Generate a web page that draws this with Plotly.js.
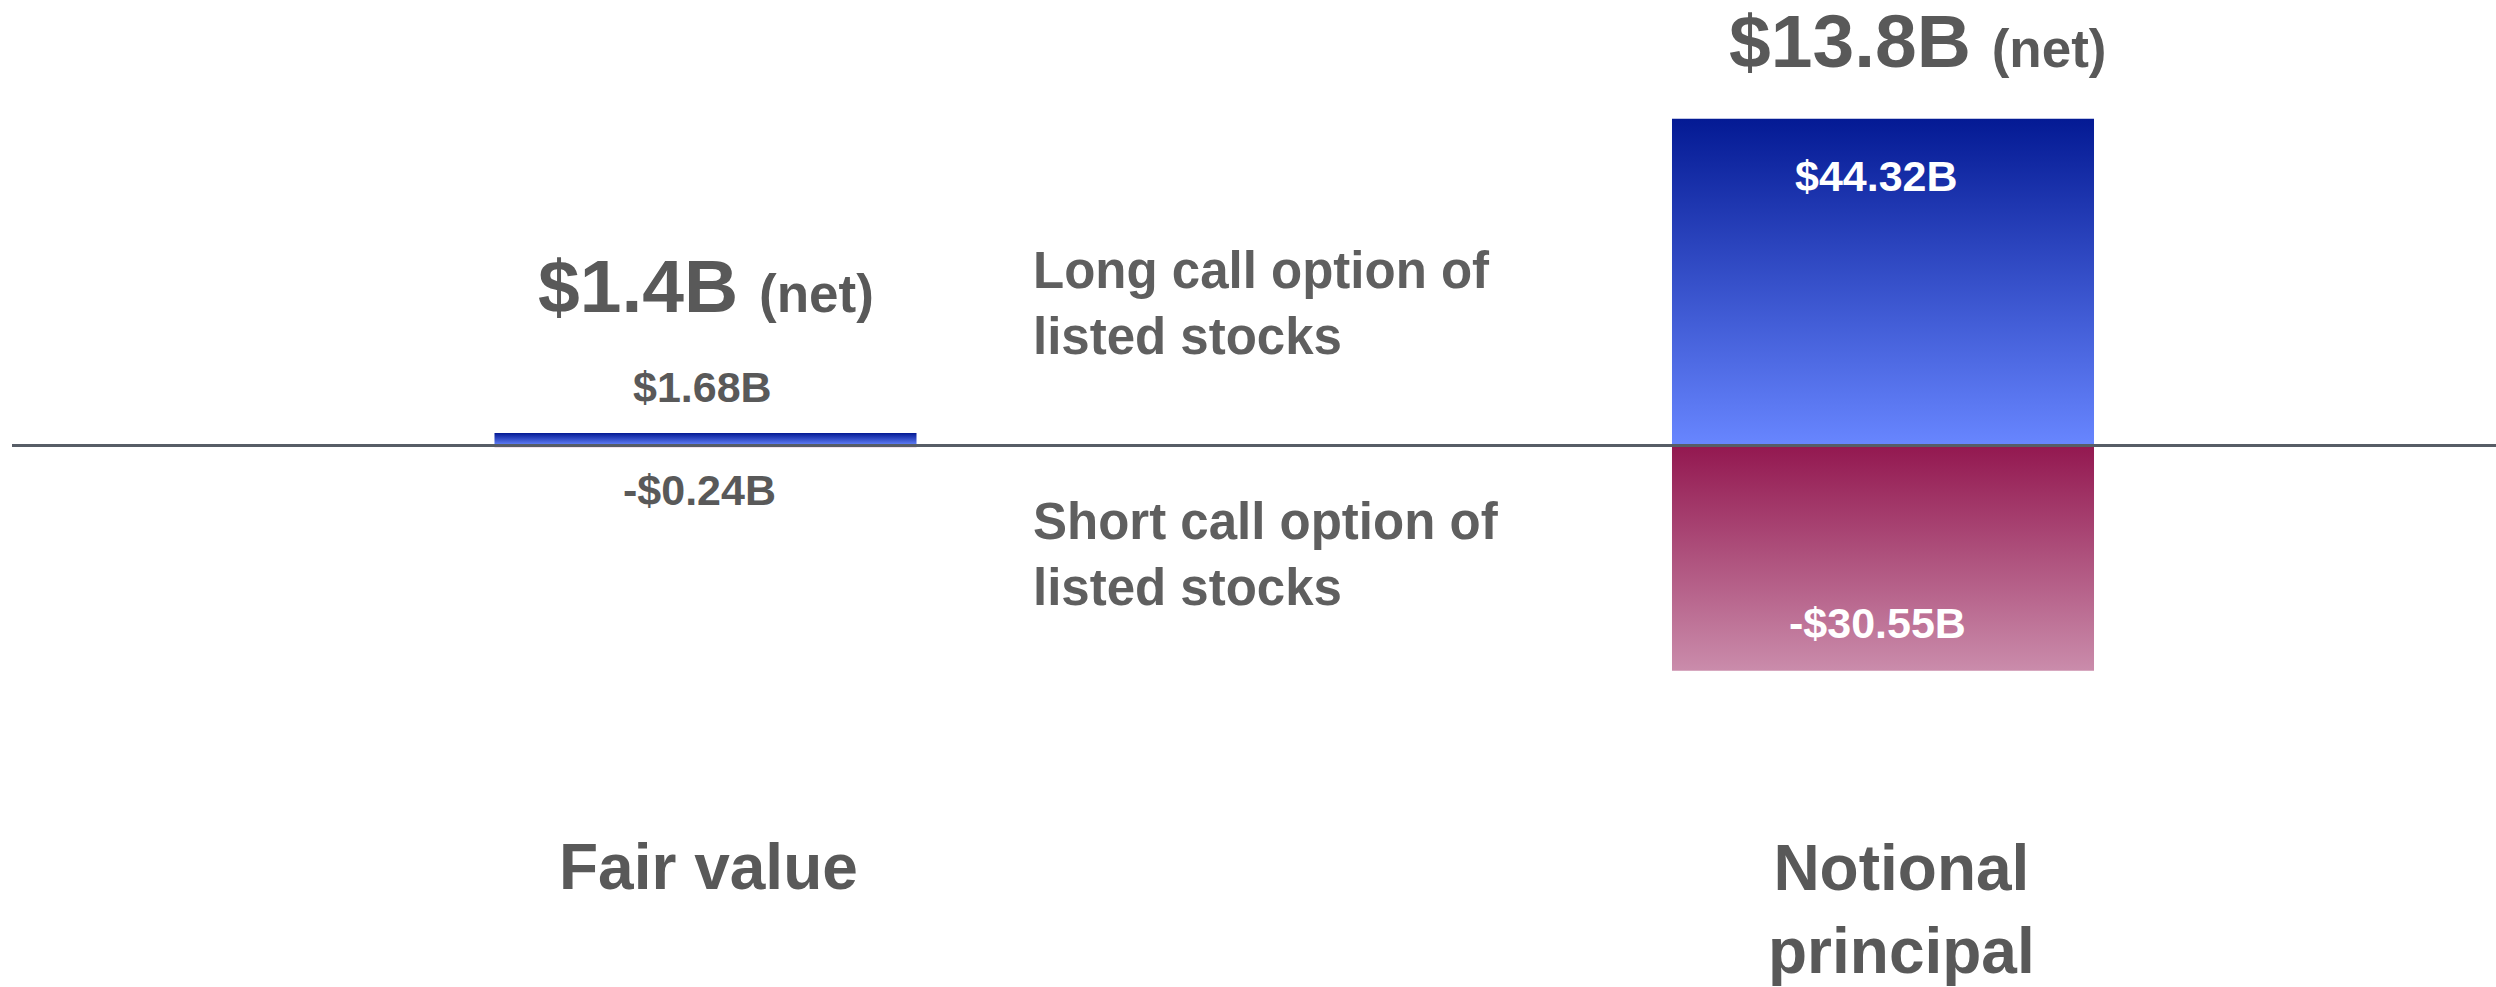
<!DOCTYPE html>
<html>
<head>
<meta charset="utf-8">
<script src="https://cdn.plot.ly/plotly-3.0.1.min.js"></script>
<style>
  html, body { margin: 0; padding: 0; background: #ffffff; }
  #chart { width: 2496px; height: 987px; }
</style>
</head>
<body>
<div id="chart"></div>
<script>
// ---- data ----
const categories = ['Fair value', 'Notional principal'];
const categoryLabels = ['Fair value', 'Notional<br>principal'];
const longCall = [1.68, 44.32];
const shortCall = [-0.24, -30.55];
const seriesNames = ['Long call option of<br>listed stocks', 'Short call option of<br>listed stocks'];

// ---- layout geometry ----
const W = 2496, H = 987;
const ML = 12;                       // plot area left
const PW = W - ML;                   // plot area width
const CAT0_PX = 705.5, CAT_STEP_PX = 1177.5;
const ZERO_PX = 445.5, PX_PER_B = 7.37;
const BAR_HALF = 0.1792;             // half bar width in category units

const xRange = [(ML - CAT0_PX) / CAT_STEP_PX, (W - CAT0_PX) / CAT_STEP_PX];
const yRange = [-(H - ZERO_PX) / PX_PER_B, ZERO_PX / PX_PER_B];

const FONT = 'Liberation Sans, Arial, Helvetica, sans-serif';
const GREY = '#595959';

const blueScale = [[0, '#6886ff'], [1, '#041a94']];
const redScale  = [[0, '#ca8cab'], [1, '#931850']];

function barTrace(i, v, scale, name) {
  return {
    type: 'scatter',
    mode: 'lines',
    name: name,
    x: [i - BAR_HALF, i + BAR_HALF, i + BAR_HALF, i - BAR_HALF, i - BAR_HALF],
    y: [0, 0, v, v, 0],
    fill: 'toself',
    fillgradient: { type: 'vertical', colorscale: scale },
    line: { width: 0, color: 'rgba(0,0,0,0)' },
    hoverinfo: 'skip',
    showlegend: false
  };
}

const traces = [];
categories.forEach((c, i) => {
  traces.push(barTrace(i, longCall[i], blueScale, 'Long call option of listed stocks'));
  traces.push(barTrace(i, shortCall[i], redScale, 'Short call option of listed stocks'));
});

function fmt(v, d) {
  return (v < 0 ? '-$' : '$') + Math.abs(v).toFixed(d) + 'B';
}
const px2fx = px => (px - ML) / PW;
const px2fy = py => 1 - py / H;
const yPx = v => ZERO_PX - v * PX_PER_B;

const annotations = [];
// value labels
const valueLabelStyle = [
  { i: 0, long: true,  color: GREY,      xs: -3.5, capCenter: 387 },
  { i: 0, long: false, color: GREY,      xs: -6.5, capCenter: 490 },
  { i: 1, long: true,  color: '#ffffff', xs: -7,   capCenter: 176.5 },
  { i: 1, long: false, color: '#ffffff', xs: -6,   capCenter: 623.5 }
];
valueLabelStyle.forEach(s => {
  const v = s.long ? longCall[s.i] : shortCall[s.i];
  annotations.push({
    xref: 'x', yref: 'y', x: s.i, y: v,
    xshift: s.xs, yshift: yPx(v) - s.capCenter,
    text: fmt(v, 2), showarrow: false,
    xanchor: 'center', yanchor: 'middle',
    font: { family: FONT, size: 43, color: s.color, weight: 'bold' }
  });
});

// net labels
const netStyle = [
  { xs: 0.5, capCenter: 285.5 },
  { xs: 34.5, capCenter: 41.5 }
];
categories.forEach((c, i) => {
  const net = longCall[i] + shortCall[i];
  annotations.push({
    xref: 'x', yref: 'y', x: i, y: longCall[i],
    xshift: netStyle[i].xs, yshift: yPx(longCall[i]) - netStyle[i].capCenter,
    text: fmt(net, 1) + ' <span style="font-size:53px">(net)</span>',
    showarrow: false, xanchor: 'center', yanchor: 'middle',
    font: { family: FONT, size: 75, color: GREY, weight: 'bold' }
  });
});

// series description labels
const seriesPos = [{ x: 1031, y: 303.5 }, { x: 1031, y: 554 }];
seriesNames.forEach((n, k) => {
  annotations.push({
    xref: 'paper', yref: 'paper', x: px2fx(seriesPos[k].x), y: px2fy(seriesPos[k].y),
    text: n, showarrow: false, xanchor: 'left', yanchor: 'middle', align: 'left',
    font: { family: FONT, size: 51, color: '#5f5f5f', weight: 'bold' }
  });
});

// category labels
const catPos = [{ x: 708, y: 867 }, { x: 1901, y: 909.5 }];
categoryLabels.forEach((t, i) => {
  annotations.push({
    xref: 'paper', yref: 'paper', x: px2fx(catPos[i].x), y: px2fy(catPos[i].y),
    text: t, showarrow: false, xanchor: 'center', yanchor: 'middle', align: 'center',
    font: { family: FONT, size: 64, color: GREY, weight: 'bold' }
  });
});

const layout = {
  width: W, height: H,
  margin: { l: ML, r: 0, t: 0, b: 0, pad: 0 },
  paper_bgcolor: '#ffffff', plot_bgcolor: '#ffffff',
  showlegend: false,
  xaxis: { range: xRange, visible: false, showgrid: false, zeroline: false, fixedrange: true },
  yaxis: { range: yRange, visible: false, showgrid: false, zeroline: false, fixedrange: true },
  shapes: [{
    type: 'line', layer: 'above', xref: 'paper', yref: 'y',
    x0: 0, x1: 1, y0: 0, y1: 0,
    line: { color: '#575d66', width: 3 }
  }],
  annotations: annotations
};

Plotly.newPlot('chart', traces, layout, { displayModeBar: false, staticPlot: true });
</script>
</body>
</html>
